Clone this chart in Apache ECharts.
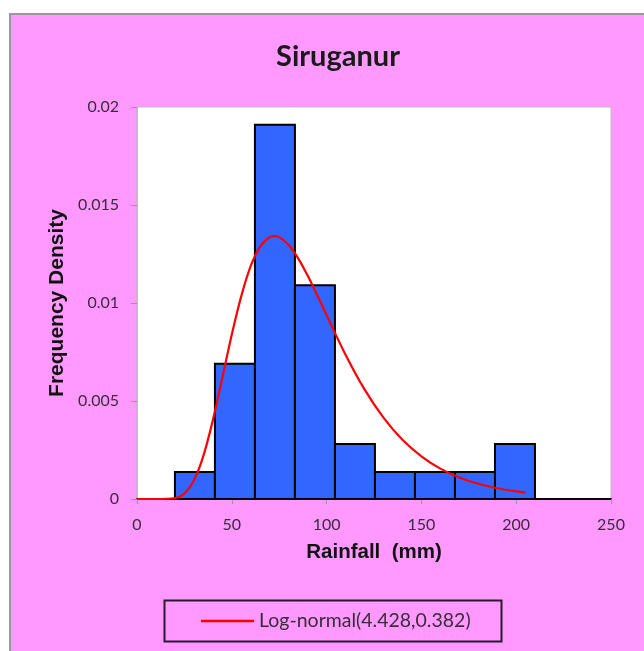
<!DOCTYPE html>
<html>
<head>
<meta charset="utf-8">
<script src="https://cdn.jsdelivr.net/npm/echarts@6/dist/echarts.min.js"></script>
<style>
html,body{margin:0;padding:0;background:#fff;}
#chart{width:644px;height:651px;}
</style>
</head>
<body>
<div id="chart"></div>
<script>
// Histogram bins (rainfall, mm) and frequency densities
const binEdges = [20, 41.1, 62.2, 83.3, 104.4, 125.5, 146.6, 167.7, 188.8, 209.9];
const densities = [0.00138, 0.0069, 0.0191, 0.0109, 0.0028, 0.00138, 0.00138, 0.00138, 0.0028];
// Fitted log-normal curve
const curveX = [0, 10, 20, 25, 30, 35, 40, 45, 50, 55, 60, 65, 70, 72.5, 75, 80, 85, 90, 95, 100, 110, 120, 130, 140, 150, 160, 170, 180, 190, 200, 205];
const curveY = [0, 0, 0.00005, 0.00028, 0.00094, 0.0022, 0.00402, 0.00618, 0.00839, 0.01035, 0.01189, 0.01289, 0.01336, 0.01341, 0.01336, 0.01296, 0.01228, 0.0114, 0.01041, 0.00938, 0.00736, 0.00559, 0.00415, 0.00302, 0.00218, 0.00155, 0.0011, 0.00078, 0.00055, 0.00039, 0.00033];
const xTicks = [0, 50, 100, 150, 200, 250];
const yTicks = ['0', '0.005', '0.01', '0.015', '0.02'];
const titleText = 'Siruganur';
const curveName = 'Log-normal(4.428,0.382)';

const histData = densities.map((d, i) => [binEdges[i], binEdges[i + 1], d]);
const curveData = curveX.map((x, i) => [x, curveY[i]]);

const chart = echarts.init(document.getElementById('chart'), null, {renderer: 'canvas'});
const tickFont = {fontFamily: 'Lato', fontSize: 16, color: '#3a2a3a'};
chart.setOption({
  animation: false,
  backgroundColor: '#ffffff',
  graphic: [
    {type: 'rect', z: -10, shape: {x: 10, y: 14, width: 660, height: 660},
     style: {fill: '#ff99ff', stroke: '#999999', lineWidth: 2}},
    {type: 'rect', z: 10, shape: {x: 164.5, y: 600.5, width: 337, height: 41},
     style: {fill: 'none', stroke: '#2a1a2a', lineWidth: 2}}
  ],
  title: {
    text: titleText, left: 333, top: 37, textAlign: 'center',
    textStyle: {fontFamily: 'Lato', fontWeight: 'bold', fontSize: 29, color: '#1a1a1a'}
  },
  legend: {
    data: [curveName], left: 196, top: 606, icon: 'rect', itemWidth: 53, itemHeight: 2.5, itemGap: 0,
    textStyle: {fontFamily: 'Lato', fontSize: 19.5, color: '#3a2a3a', padding: [0, 0, 0, 0]}
  },
  grid: {
    left: 137, top: 107, right: 33, bottom: 152, show: true,
    backgroundColor: '#ffffff', borderColor: '#bbbbbb', borderWidth: 1
  },
  xAxis: {
    type: 'value', min: 0, max: 250, interval: 50,
    name: 'Rainfall  (mm)', nameLocation: 'middle', nameGap: 43,
    nameTextStyle: {fontFamily: 'Liberation Sans', fontWeight: 'bold', fontSize: 20.5, color: '#111'},
    axisLine: {show: true, onZero: false, lineStyle: {color: '#000', width: 2}},
    axisTick: {show: true, length: 5, lineStyle: {color: '#999'}},
    axisLabel: Object.assign({margin: 18, formatter: v => xTicks.includes(v) ? String(v) : ''}, tickFont),
    splitLine: {show: false}
  },
  yAxis: {
    type: 'value', min: 0, max: 0.02, interval: 0.005,
    name: 'Frequency Density', nameLocation: 'middle', nameGap: 69, nameRotate: 90,
    nameTextStyle: {fontFamily: 'Liberation Sans', fontWeight: 'bold', fontSize: 21, color: '#111'},
    axisLine: {show: true, lineStyle: {color: '#bbbbbb', width: 1}},
    axisTick: {show: true, length: 6, lineStyle: {color: '#999'}},
    axisLabel: Object.assign({margin: 18, formatter: (v, i) => yTicks[i]}, tickFont),
    splitLine: {show: false}
  },
  series: [
    {
      type: 'custom', name: 'hist', data: histData, z: 2,
      renderItem: function (params, api) {
        const p0 = api.coord([api.value(0), api.value(2)]);
        const p1 = api.coord([api.value(1), 0]);
        return {
          type: 'rect',
          shape: {x: p0[0], y: p0[1], width: p1[0] - p0[0], height: p1[1] - p0[1]},
          style: {fill: '#3366ff', stroke: '#000000', lineWidth: 2}
        };
      }
    },
    {
      type: 'line', name: curveName, data: curveData, smooth: 0.35, showSymbol: false, z: 5,
      lineStyle: {color: '#ff0000', width: 2.2}, itemStyle: {color: '#ff0000'}
    }
  ]
});
</script>
</body>
</html>
